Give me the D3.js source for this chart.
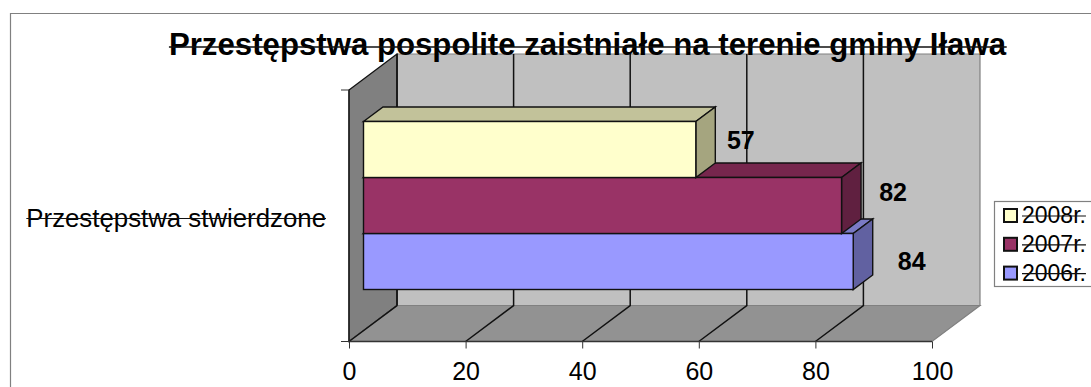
<!DOCTYPE html>
<html lang="pl">
<head>
<meta charset="UTF-8">
<title>Przestępstwa pospolite</title>
<script src="https://cdnjs.cloudflare.com/ajax/libs/d3/7.9.0/d3.min.js"></script>
<style>
    html, body { margin: 0; padding: 0; background: #fff; overflow: hidden; }
    svg { display: block; }
    text { font-family: "Liberation Sans", Arial, sans-serif; fill: #000; }
</style>
</head>
<body>
<svg width="1091" height="387"></svg>
<script>
const chartTitle = "Przestępstwa pospolite zaistniałe na terenie gminy Iława";
const category = "Przestępstwa stwierdzone";
// bottom bar first
const years = ["2006r.", "2007r.", "2008r."];
const values = [84, 82, 57];
const xTicks = [0, 20, 40, 60, 80, 100];
const legendRows = ["2008r.", "2007r.", "2006r."];

const svg = d3.select("svg");

const colors = {
    "2008r.": { front: "#ffffcc", top: "#c2c29a", side: "#a5a57f" },
    "2007r.": { front: "#993366", top: "#76264d", side: "#602040" },
    "2006r.": { front: "#9999ff", top: "#7a7ac4", side: "#6161a1" }
};
// label nudges, the original places them by hand
const labelNudge = {
    "2008r.": [25.5, -7],
    "2007r.": [32, -11.5],
    "2006r.": [39, 1.5]
};

// front plane of the 3d box
const x = d3.scaleLinear().domain([0, 100]).range([349, 932]);
const y = d3.scaleBand().domain(years).range([289.5, 121.5]);
const floorY = 341.5, topY = 90;
const depthX = 48, depthY = -36;
// bars sit inside the box
const barOffX = 14.5, barDepthX = 19.5, barDepthY = -14.5;

const line = d3.line();
const poly = pts => line(pts) + "Z";

// the browser's line-through sits too high and too thick, so draw it by hand
function strike(sel, rise, weight) {
    sel.each(function () {
        const b = this.getBBox();
        const baseY = +this.getAttribute("y");
        d3.select(this.parentNode).append("line")
            .attr("x1", b.x).attr("x2", b.x + b.width)
            .attr("y1", baseY - rise).attr("y2", baseY - rise)
            .attr("stroke", "#111").attr("stroke-width", weight);
    });
}

// outer frame, runs off the right and bottom of the picture
svg.append("path").attr("d", "M10.5,387V13.5H1091")
    .attr("fill", "none").attr("stroke", "#808080").attr("stroke-width", 1.2);

// walls
svg.append("path")
    .attr("d", poly([[x(0) + depthX, topY + depthY], [x(100) + depthX, topY + depthY], [x(100) + depthX, floorY + depthY], [x(0) + depthX, floorY + depthY]]))
    .attr("fill", "#c0c0c0").attr("stroke", "#808080").attr("stroke-width", 1.2);
svg.append("path")
    .attr("d", poly([[x(0), topY], [x(0) + depthX, topY + depthY], [x(0) + depthX, floorY + depthY], [x(0), floorY]]))
    .attr("fill", "#808080").attr("stroke", "#111").attr("stroke-width", 1.2);
svg.append("path")
    .attr("d", poly([[x(0), floorY], [x(0) + depthX, floorY + depthY], [x(100) + depthX, floorY + depthY], [x(100), floorY]]))
    .attr("fill", "#929292").attr("stroke", "#808080").attr("stroke-width", 1.2);

// gridlines on back wall and floor
xTicks.slice(0, -1).forEach(t => {
    svg.append("path")
        .attr("d", line([[x(t), floorY], [x(t) + depthX, floorY + depthY], [x(t) + depthX, topY + depthY]]))
        .attr("fill", "none").attr("stroke", "#111").attr("stroke-width", 1.5);
});

// axis lines
svg.append("path").attr("d", line([[x(0), topY], [x(0), floorY]])).attr("stroke", "#222").attr("stroke-width", 1.4);
svg.append("path").attr("d", line([[x(0), floorY], [x(100), floorY]])).attr("stroke", "#333").attr("stroke-width", 1.4);
[topY, floorY].forEach(v => {
    svg.append("path").attr("d", line([[x(0) - 8, v], [x(0), v]])).attr("stroke", "#333").attr("stroke-width", 1);
});

const xAxis = d3.axisBottom(x).tickValues(xTicks).tickSize(7).tickPadding(14).tickSizeOuter(0);
const axisG = svg.append("g").attr("transform", `translate(0,${floorY})`).call(xAxis);
axisG.select(".domain").remove();
axisG.selectAll("line").attr("stroke", "#333");
axisG.selectAll("text").style("font-size", "25px").style("font-family", '"Liberation Sans", Arial, sans-serif').attr("fill", "#000");

// bars, bottom one first so the upper front covers its top face
const barH = y.bandwidth();
const barData = years.map((yr, i) => ({ year: yr, value: values[i] }));
const bars = svg.selectAll("g.bar").data(barData).join("g").attr("class", "bar");
bars.each(function (d) {
    const g = d3.select(this);
    const c = colors[d.year];
    const x0 = x(0) + barOffX, x1 = x(d.value) + barOffX;
    const y0 = y(d.year), y1 = y0 + barH;
    g.append("path")
        .attr("d", poly([[x0, y0], [x0 + barDepthX, y0 + barDepthY], [x1 + barDepthX, y0 + barDepthY], [x1, y0]]))
        .attr("fill", c.top).attr("stroke", "#111").attr("stroke-width", 1.4);
    g.append("path")
        .attr("d", poly([[x1, y0], [x1 + barDepthX, y0 + barDepthY], [x1 + barDepthX, y1 + barDepthY], [x1, y1]]))
        .attr("fill", c.side).attr("stroke", "#111").attr("stroke-width", 1.4);
    g.append("rect")
        .attr("x", x0).attr("y", y0).attr("width", x1 - x0).attr("height", barH)
        .attr("fill", c.front).attr("stroke", "#111").attr("stroke-width", 1.4);
});

// data labels
svg.selectAll("text.val").data(barData).join("text")
    .attr("class", "val")
    .attr("x", d => x(d.value) + barOffX + barDepthX + labelNudge[d.year][0])
    .attr("y", d => y(d.year) + barH / 2 + labelNudge[d.year][1])
    .attr("text-anchor", "middle").attr("dominant-baseline", "middle")
    .attr("font-weight", "bold").attr("font-size", "25px")
    .text(d => d.value);

// title and category
svg.append("text")
    .attr("x", 587.5).attr("y", 54.5).attr("text-anchor", "middle")
    .attr("font-weight", "bold").attr("font-size", "31.2px").text(chartTitle)
    .call(strike, 7.5, 1.5);
svg.append("text")
    .attr("x", 326).attr("y", 227).attr("text-anchor", "end")
    .attr("font-size", "25.8px").text(category)
    .call(strike, 8.5, 1.2);

// legend, cut by the picture edge on the right
const lx = 994, ly = 201, rowH = 28.8;
svg.append("rect").attr("x", lx + 0.5).attr("y", ly + 0.5).attr("width", 120).attr("height", 85)
    .attr("fill", "#fff").attr("stroke", "#808080").attr("stroke-width", 1.2);
const rows = svg.selectAll("g.leg").data(legendRows).join("g").attr("class", "leg")
    .attr("transform", (d, i) => `translate(${lx + 10},${ly + 8 + i * rowH})`);
rows.append("rect").attr("width", 13).attr("height", 13)
    .attr("fill", d => colors[d].front).attr("stroke", "#111").attr("stroke-width", 2);
rows.append("text").attr("x", 18).attr("y", 14)
    .attr("font-size", "23px").text(d => d)
    .call(strike, 7, 1.2);
</script>
</body>
</html>
